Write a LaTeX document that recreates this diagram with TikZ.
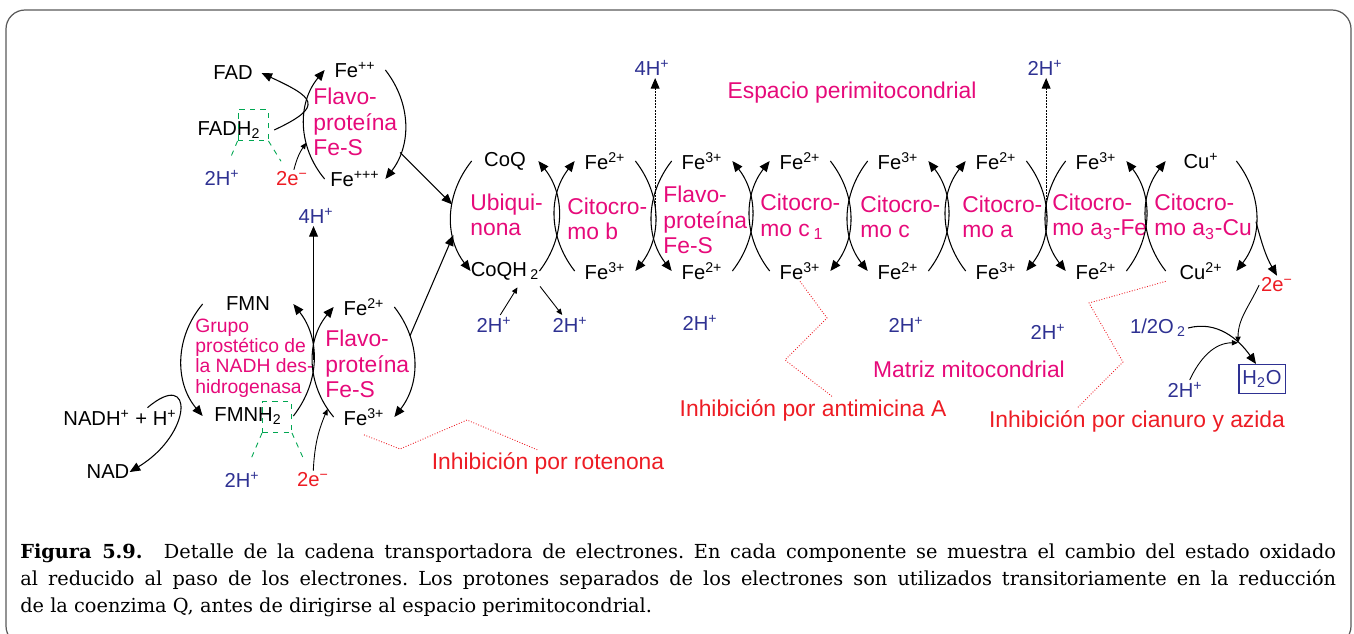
\documentclass[tikz,border=0pt]{standalone}
\usepackage{fontspec}
\setmainfont{Liberation Sans}
\newfontfamily\capfont{DejaVu Serif}
\usetikzlibrary{arrows.meta}
\definecolor{rosa}{RGB}{230,10,122}
\definecolor{rojo}{RGB}{237,28,36}
\definecolor{azul}{RGB}{46,49,146}
\definecolor{verde}{RGB}{0,166,81}
\newcommand{\Fe}[1]{Fe\textsuperscript{#1}}
\tikzstyle{ox}=[inner sep=0pt,minimum width=1.2cm,minimum height=0.4cm,font=\fontsize{11.5}{13}\selectfont]
\tikzstyle{comp}=[inner sep=0pt,align=left,text=rosa,font=\fontsize{13}{14.5}\selectfont]
\tikzstyle{prot}=[inner sep=1pt,text=azul,font=\fontsize{11.5}{13}\selectfont]
\tikzstyle{elec}=[inner sep=1pt,text=rojo,font=\fontsize{11.5}{13}\selectfont]
\tikzstyle{inh}=[inner sep=1pt,text=rojo,font=\fontsize{13}{14.5}\selectfont]
\tikzstyle{arr}=[-{Triangle[length=6pt,width=5pt]},line width=0.6pt]
\tikzstyle{arrs}=[-{Triangle[length=3.5pt,width=3pt]},line width=0.5pt]
\tikzstyle{bomba}=[arr,dash pattern=on 1.2pt off 0.6pt]
\tikzstyle{inhib}=[rojo,densely dotted,line width=0.5pt]
\tikzstyle{hbox}=[draw=verde,dashed,line width=0.5pt,inner sep=0pt]
\tikzstyle{hline}=[verde,dashed,line width=0.5pt,shorten >=0.2cm]

\begin{document}
\begin{tikzpicture}[x=0.02cm,y=-0.02cm]
\useasboundingbox (0,0) rectangle (1354,633);
\clip (0,0) rectangle (1354,633);
\draw[gray!70!black,line width=0.7pt,rounded corners=0.38cm] (6,10) rectangle (1351,645);

% FAD y primera flavoproteina
\node[ox,minimum width=0pt,inner sep=2pt] (fad) at (233,73) {FAD};
\node[ox,minimum width=0pt,inner sep=2pt] (fadh) at (229,130) {FADH\textsubscript{2}};
\node[hbox,minimum width=0.6cm,minimum height=0.62cm] (fadbox) at (253,125) {};
\node[ox] (fp1T) at (355,70) {\Fe{++}};
\node[ox] (fp1B) at (355,179) {\Fe{+++}};
\node[comp,anchor=west] (fp1L) at (313,122) {Flavo-\\proteína\\Fe-S};
\node[prot] (h2a) at (222,178) {2H\textsuperscript{+}};
\node[elec] (e2a) at (292,179) {2e\textsuperscript{−}};
\node[prot] (h4a) at (316,216) {4H\textsuperscript{+}};
\draw[arr] ([xshift=0.2cm]fadh.east) to[out=25,in=-25,looseness=2.5] ([xshift=0.1cm]fad.east);
\draw[arr] (fp1B.west) to[bend left=40] coordinate[pos=0.34] (fp1in) (fp1T.west);
\draw[arr] (fp1T.east) to[bend left=38] coordinate[pos=0.75] (fp1out) (fp1B.east);
\draw[arrs] (e2a) to[bend left=10] (fp1in);
\draw[hline] (fadbox.south west) -- (h2a);
\draw[hline] (fadbox.south east) -- (e2a);

% NADH deshidrogenasa
\node[ox,minimum width=0pt] (nadh) at (120,418) {NADH\textsuperscript{+} + H\textsuperscript{+}};
\node[ox,minimum width=0pt] (nad) at (108,472) {NAD};
\node[ox,minimum width=1.8cm] (fmnT) at (248,304) {FMN};
\node[ox,minimum width=1.8cm] (fmnB) at (248,416) {FMNH\textsubscript{2}};
\node[hbox,minimum width=0.58cm,minimum height=0.62cm] (fmnbox) at (277,417) {};
\node[comp,anchor=west,font=\fontsize{11}{11.5}\selectfont] (grupo) at (195,358) {Grupo\\prostético de\\la NADH des-\\hidrogenasa};
\node[ox] (fp2T) at (364,307) {\Fe{2+}};
\node[ox] (fp2B) at (364,417) {\Fe{3+}};
\node[comp,anchor=west] (fp2L) at (325,364) {Flavo-\\proteína\\Fe-S};
\node[prot] (h2b) at (242,480) {2H\textsuperscript{+}};
\node[elec] (e2b) at (313,480) {2e\textsuperscript{−}};
\draw[arr] ([xshift=0.55cm]nadh.north) .. controls +(47,-40) and +(63,-38) .. (nad.east);
\draw[arr] (fmnT.west) to[bend right=40] (fmnB.west);
\draw[arr] (fmnB.east) to[bend right=38] coordinate[pos=0.5] (fmnpump) (fmnT.east);
\draw[arr] (fp2B.west) to[bend left=40] coordinate[pos=0.08] (fp2in) (fp2T.west);
\draw[arr] (fp2T.east) to[bend left=38] coordinate[pos=0.27] (fp2out) (fp2B.east);
\draw[arrs] (e2b) to[bend left=10] (fp2in);
\draw[arr] (fmnpump) -- (fmnpump |- h4a.south);
\draw[hline] (fmnbox.south west) -- (h2b);
\draw[hline] (fmnbox.south east) -- (e2b);

% cadena
\node[ox,minimum width=1.32cm] (qT) at (505,161) {CoQ};
\node[ox,minimum width=1.32cm] (qB) at (505,271) {CoQH\,\textsubscript{2}};
\node[ox] (bT) at (605,161) {\Fe{2+}};
\node[ox] (bB) at (605,271) {\Fe{3+}};
\node[ox] (fesT) at (702,161) {\Fe{3+}};
\node[ox] (fesB) at (702,271) {\Fe{2+}};
\node[ox] (c1T) at (800,161) {\Fe{2+}};
\node[ox] (c1B) at (800,271) {\Fe{3+}};
\node[ox] (cT) at (898,161) {\Fe{3+}};
\node[ox] (cB) at (898,271) {\Fe{2+}};
\node[ox] (aT) at (996,161) {\Fe{2+}};
\node[ox] (aB) at (996,271) {\Fe{3+}};
\node[ox] (a3T) at (1096,161) {\Fe{3+}};
\node[ox] (a3B) at (1096,271) {\Fe{2+}};
\node[ox,minimum width=1.4cm] (cuT) at (1201,161) {Cu\textsuperscript{+}};
\node[ox,minimum width=1.4cm] (cuB) at (1201,271) {Cu\textsuperscript{2+}};

\node[comp,anchor=west] (qL) at (470,215) {Ubiqui-\\nona};
\node[comp,anchor=west] (bL) at (567,219) {Citocro-\\mo b};
\node[comp,anchor=west] (fesL) at (663,220) {Flavo-\\proteína\\Fe-S};
\node[comp,anchor=west] (c1L) at (760,217) {Citocro-\\mo c\,\textsubscript{1}};
\node[comp,anchor=west] (cL) at (860,217) {Citocro-\\mo c};
\node[comp,anchor=west] (aL) at (962,217) {Citocro-\\mo a};
\node[comp,anchor=west] (a3L) at (1052,217) {Citocro-\\mo a\textsubscript{3}-Fe};
\node[comp,anchor=west] (cuL) at (1154,217) {Citocro-\\mo a\textsubscript{3}-Cu};

\draw[arr] (qT.west) to[bend right=38] coordinate[pos=0.4] (qa) coordinate[pos=0.67] (qb) (qB.west);
\draw[arr] (qB.east) to[bend right=38] (qT.east);
\draw[arr] (bB.west) to[bend left=38] (bT.west);
\draw[arr] (bT.east) to[bend left=38] coordinate[pos=0.5] (pumpA) (bB.east);
\draw[arr] (fesT.west) to[bend right=38] (fesB.west);
\draw[arr] (fesB.east) to[bend right=38] (fesT.east);
\draw[arr] (c1B.west) to[bend left=38] (c1T.west);
\draw[arr] (c1T.east) to[bend left=38] (c1B.east);
\draw[arr] (cT.west) to[bend right=38] (cB.west);
\draw[arr] (cB.east) to[bend right=38] (cT.east);
\draw[arr] (aB.west) to[bend left=38] (aT.west);
\draw[arr] (aT.east) to[bend left=38] coordinate[pos=0.5] (pumpB) (aB.east);
\draw[arr] (a3T.west) to[bend right=38] (a3B.west);
\draw[arr] (a3B.east) to[bend right=38] (a3T.east);
\draw[arr] (cuB.west) to[bend left=38] (cuT.west);
\draw[arr] (cuT.east) to[bend left=38] coordinate[pos=0.55] (cuout) (cuB.east);

\draw[arr] (fp1out) -- (qa);
\draw[arr] (fp2out) -- (qb);

% protones
\node[prot] (h4b) at (652,68) {4H\textsuperscript{+}};
\node[prot] (h2t) at (1045,68) {2H\textsuperscript{+}};
\node[prot] (hq1) at (494,325) {2H\textsuperscript{+}};
\node[prot] (hq2) at (570,325) {2H\textsuperscript{+}};
\node[prot] (hm1) at (700,323) {2H\textsuperscript{+}};
\node[prot] (hm2) at (906,325) {2H\textsuperscript{+}};
\node[prot] (hm3) at (1048,332) {2H\textsuperscript{+}};
\draw[bomba] (pumpA) -- (pumpA |- h4b.south);
\draw[bomba] (pumpB) -- (pumpB |- h2t.south);
\draw[arrs] (hq1) -- ([xshift=0.25cm,yshift=-0.12cm]qB.south);
\draw[arrs] ([xshift=0.7cm,yshift=-0.1cm]qB.south) -- (hq2);

% oxigeno
\node[elec] (e2c) at (1277,285) {2e\textsuperscript{−}};
\node[prot] (o2) at (1158,328) {1/2O\,\textsubscript{2}};
\node[prot] (h2w) at (1185,390) {2H\textsuperscript{+}};
\node[prot,draw=azul,line width=0.6pt,inner sep=2pt,minimum height=0.58cm] (h2o) at (1262,379) {H\textsubscript{2}O};
\draw[arr] (cuout) to[out=-75,in=120] (e2c.north);
\draw[arr] (o2.east) to[out=15,in=125] coordinate[pos=0.68] (wmeet) ([xshift=-0.12cm]h2o.north);
\draw[arrs] (h2w) to[out=65,in=180] (wmeet);
\draw[arrs] (e2c.west) to[out=-115,in=90] (wmeet);

% espacios e inhibidores
\node[comp] (espacio) at (852,93) {Espacio perimitocondrial};
\node[comp] (matriz) at (969,369) {Matriz mitocondrial};
\node[inh] (rot) at (548,463) {Inhibición por rotenona};
\node[inh] (anti) at (813,410) {Inhibición por antimicina A};
\node[inh] (cia) at (1137,421) {Inhibición por cianuro y azida};
\draw[inhib] ([yshift=-0.15cm]fp2B.south) -- (400,449) -- (467,420) -- ([xshift=-0.2cm]rot.north);
\draw[inhib] (c1B.south) -- (827,318) -- (785,360) -- ([xshift=0.4cm]anti.north);
\draw[inhib] (cuB.south west) -- (1089,303) -- (1123,362) -- ([xshift=-1.2cm]cia.north);

% pie de figura
\node[anchor=north west,inner sep=0pt,text width=26.32cm,align=justify,font=\capfont\fontsize{11}{15.6}\selectfont\frenchspacing] (pie) at (20,543) {\textbf{Figura 5.9.}\hspace{1.1em}Detalle de la cadena transportadora de electrones. En cada componente se muestra el cambio del estado oxidado\linebreak al reducido al paso de los electrones. Los protones separados de los electrones son utilizados transitoriamente en la reducción\linebreak de la coenzima Q, antes de dirigirse al espacio perimitocondrial.};
\end{tikzpicture}
\end{document}
